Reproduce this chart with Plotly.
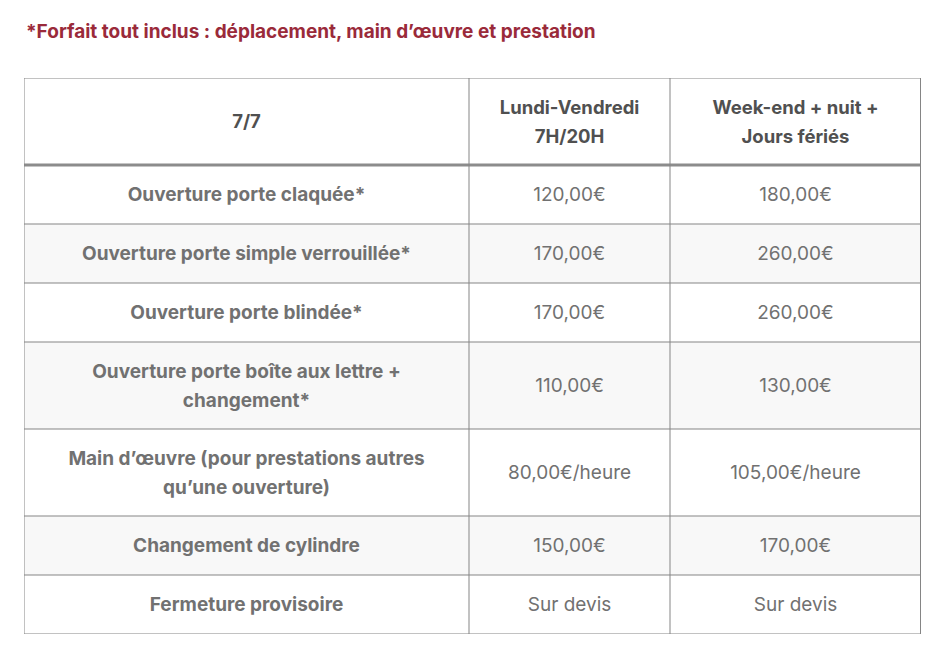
import plotly.graph_objects as go

# Table content
header_labels = ["7/7", "Lundi-Vendredi<br>7H/20H", "Week-end + nuit +<br>Jours fériés"]

services = [
    "Ouverture porte claquée*",
    "Ouverture porte simple verrouillée*",
    "Ouverture porte blindée*",
    "Ouverture porte boîte aux lettre +<br>changement*",
    "Main d’œuvre (pour prestations autres<br>qu’une ouverture)",
    "Changement de cylindre",
    "Fermeture provisoire",
]
weekday_prices = ["120,00€", "170,00€", "170,00€", "110,00€",
                  "80,00€/heure", "150,00€", "Sur devis"]
weekend_prices = ["180,00€", "260,00€", "260,00€", "130,00€",
                  "105,00€/heure", "170,00€", "Sur devis"]

note = "*Forfait tout inclus : déplacement, main d’œuvre et prestation"

# Layout (page pixels; the plot div sits 8px in from the page corner)
OFF = 8
W, H = 946 - OFF, 655 - OFF
left, top = 24, 78
col_widths = [445, 201, 251]
line_col = "#858585"
text_col = "#717171"
head_col = "#505050"
stripe = "#f8f8f8"
font = "Inter"
line_gap = 29
text_nudge = 2  # text sits a touch below the geometric centre


def n_lines(s):
    return s.count("<br>") + 1


def row_height(lines):
    return 31 + 28 * lines


header_h = row_height(max(n_lines(h) for h in header_labels))
rows_h = [row_height(max(n_lines(a), n_lines(b), n_lines(c)))
          for a, b, c in zip(services, weekday_prices, weekend_prices)]

# boundaries in table units
col_edges = [0]
for w in col_widths:
    col_edges.append(col_edges[-1] + w)
row_edges = [0, header_h]
for h in rows_h:
    row_edges.append(row_edges[-1] + h)
total_w, total_h = col_edges[-1], row_edges[-1]

col_mid = [(col_edges[i] + col_edges[i + 1]) / 2 for i in range(3)]
row_mid = [(row_edges[i] + row_edges[i + 1]) / 2 + text_nudge
           for i in range(len(row_edges) - 1)]


def split_lines(texts, mids, bold):
    """One text point per printed line, stacked around the row centre."""
    ys, ts = [], []
    for t, m in zip(texts, mids):
        parts = t.split("<br>")
        for i, p in enumerate(parts):
            ys.append(m + (i - (len(parts) - 1) / 2) * line_gap)
            ts.append("<b>%s</b>" % p if bold else p)
    return ys, ts


fig = go.Figure()

shapes = []
# striped rows
for i in range(len(services)):
    if i % 2 == 1:
        shapes.append(dict(type="rect", xref="x", yref="y", layer="below",
                           x0=0, x1=total_w, y0=row_edges[i + 1], y1=row_edges[i + 2],
                           fillcolor=stripe, line=dict(width=0)))
# horizontal rules
for j, y in enumerate(row_edges):
    if j == 1:
        continue
    shapes.append(dict(type="line", xref="x", yref="y", x0=0, x1=total_w, y0=y, y1=y,
                       line=dict(color=line_col, width=1)))
# thick rule under the header
shapes.append(dict(type="line", xref="x", yref="y", x0=0, x1=total_w,
                   y0=header_h, y1=header_h, line=dict(color="#8c8c8c", width=3)))
# vertical rules
for k, x in enumerate(col_edges):
    shapes.append(dict(type="line", xref="x", yref="y", x0=x, x1=x, y0=0, y1=total_h,
                       line=dict(color=line_col, width=2 if k == 3 else 1)))

# header text
for c, h in enumerate(header_labels):
    ys, ts = split_lines([h], [row_mid[0]], True)
    fig.add_trace(go.Scatter(
        x=[col_mid[c]] * len(ys), y=ys, mode="text", text=ts,
        textposition="middle center",
        textfont=dict(family=font, size=18.5, color=head_col),
        hoverinfo="skip", showlegend=False,
    ))
# body text
columns = [services, weekday_prices, weekend_prices]
for c, vals in enumerate(columns):
    ys, ts = split_lines(vals, row_mid[1:], c == 0)
    fig.add_trace(go.Scatter(
        x=[col_mid[c]] * len(ys), y=ys, mode="text", text=ts,
        textposition="middle center",
        textfont=dict(family=font, size=19, color=text_col),
        hoverinfo="skip", showlegend=False,
    ))

plot_l = left - OFF
plot_t = top - OFF
fig.update_layout(
    width=W, height=H,
    margin=dict(l=plot_l, r=W - plot_l - total_w, t=plot_t, b=H - plot_t - total_h),
    paper_bgcolor="#ffffff",
    plot_bgcolor="rgba(0,0,0,0)",
    shapes=shapes,
    xaxis=dict(range=[0, total_w], visible=False, fixedrange=True),
    yaxis=dict(range=[total_h, 0], visible=False, fixedrange=True),
    annotations=[dict(
        text="<b>%s</b>" % note, xref="paper", yref="paper",
        x=0, y=1 + (top - 31) / total_h, xanchor="left", yanchor="middle",
        showarrow=False,
        font=dict(family=font, size=19, color="#9a2a3a"),
    )],
)

fig.write_html("out.html")
